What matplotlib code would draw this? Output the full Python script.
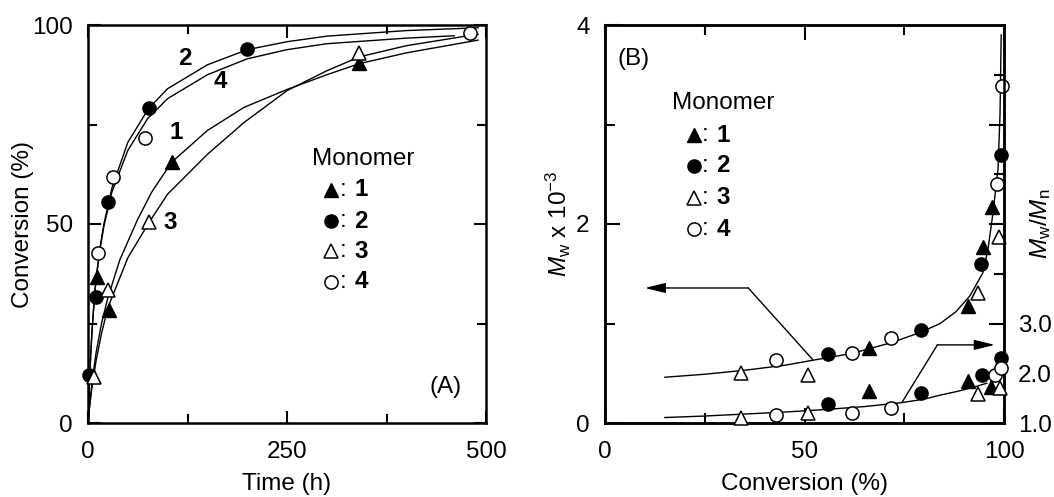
import matplotlib
matplotlib.use('Agg')
import matplotlib.pyplot as plt
from matplotlib.ticker import FixedLocator

plt.rcParams['font.family'] = ['Liberation Sans', 'DejaVu Sans']
plt.rcParams['mathtext.fontset'] = 'custom'
plt.rcParams['mathtext.rm'] = 'Liberation Sans'
plt.rcParams['mathtext.it'] = 'Liberation Sans:italic'
plt.rcParams['mathtext.bf'] = 'Liberation Sans:bold'

FS = 17.5

# ---- (A) conversion vs. time ----
time_1 = [11, 26, 106, 341]
conv_1 = [36.8, 28.4, 65.5, 90.4]
time_2 = [1, 10, 25, 77, 200]
conv_2 = [12, 31.7, 55.6, 79.1, 94.0]
time_3 = [7.5, 25, 77, 341]
conv_3 = [11.6, 33.4, 50.6, 93.0]
time_4 = [12, 32, 72, 480]
conv_4 = [42.6, 61.9, 71.5, 98.0]

# fitted curves
fit_t_1 = [0, 2, 5, 10, 17, 25, 40, 62, 80, 105, 150, 196, 250, 300, 341, 400, 490]
fit_c_1 = [0, 4.5, 10, 17.5, 25, 31.5, 41, 51, 58, 65.5, 73.5, 79.3, 83.8, 87.5, 90.3, 93, 96.2]
fit_t_3 = [0, 2, 5, 10, 17, 25, 50, 77, 100, 150, 196, 250, 300, 341, 400, 490]
fit_c_3 = [0, 4, 9, 15.5, 22.5, 29, 41.5, 50.5, 57.5, 67.5, 75.5, 83.5, 88.5, 92, 94.8, 97.7]
fit_t_2 = [0, 1, 2, 3.5, 5, 7.5, 10, 15, 20, 30, 50, 76, 100, 150, 200, 250, 300, 400, 490]
fit_c_2 = [0, 6, 11, 17.5, 23, 30, 36, 44, 50, 59, 70.5, 79, 84, 90, 93.8, 95.8, 97.2, 98.6, 99.3]
fit_t_4 = [0, 1, 2, 3.5, 5, 7.5, 10, 15, 20, 30, 50, 75, 100, 150, 200, 250, 300, 400, 460]
fit_c_4 = [0, 6, 11, 17.5, 23, 30, 36, 43.5, 49.5, 58, 68.5, 76.5, 81.5, 87.5, 91.5, 93.8, 95.3, 96.7, 97.3]

# ---- (B) Mw and Mw/Mn vs. conversion ----
mw_conv_1 = [66.2, 91, 94.7, 97]
mw_1 = [0.75, 1.18, 1.77, 2.17]
mw_conv_2 = [56, 79.3, 94.2, 99.2]
mw_2 = [0.69, 0.93, 1.60, 2.69]
mw_conv_3 = [34.2, 50.9, 93.6, 98.7]
mw_3 = [0.50, 0.48, 1.31, 1.87]
mw_conv_4 = [42.9, 62, 71.8, 98.2, 99.5]
mw_4 = [0.63, 0.70, 0.85, 2.40, 3.39]

pdi_conv_1 = [66.2, 91, 96.7]
pdi_1 = [1.65, 1.84, 1.72]
pdi_conv_2 = [56, 79.3, 94.4, 99.2]
pdi_2 = [1.38, 1.60, 1.96, 2.31]
pdi_conv_3 = [34.2, 50.9, 93.6, 99]
pdi_3 = [1.11, 1.21, 1.58, 1.70]
pdi_conv_4 = [42.9, 62, 71.8, 97.7, 99.2]
pdi_4 = [1.17, 1.21, 1.31, 1.96, 2.10]

fit_mw_conv = [15, 25, 35, 45, 52, 62, 72, 79, 84, 88, 91.5, 94.7, 96, 97.2, 98.5, 99, 99.3]
fit_mw = [0.46, 0.49, 0.53, 0.58, 0.63, 0.70, 0.81, 0.91, 1.0, 1.12, 1.28, 1.51, 1.75, 2.1, 2.55, 3.1, 3.9]
fit_pdi_conv = [15, 25, 35, 45, 55, 65, 74.4, 80, 84, 88, 92, 95.7]
fit_pdi = [1.11, 1.14, 1.18, 1.22, 1.27, 1.33, 1.41, 1.48, 1.56, 1.63, 1.71, 1.80]

styles = {
    1: dict(marker='^', ms=10, mfc='k', mec='k'),
    2: dict(marker='o', ms=9.5, mfc='k', mec='k'),
    3: dict(marker='^', ms=10, mfc='white', mec='k', mew=1.1),
    4: dict(marker='o', ms=9.5, mfc='white', mec='k', mew=1.1),
}

fig = plt.figure(figsize=(10.54, 4.97), dpi=100)
axA = fig.add_axes([88 / 1054, 74 / 497, 398 / 1054, 398 / 497])
axB = fig.add_axes([605 / 1054, 74 / 497, 399 / 1054, 398 / 497])


def frame(ax):
    for s in ax.spines.values():
        s.set_linewidth(1.8)


def legend(ax, px_title, px_m, px_c, px_n, py_title, py_rows):
    # positions given in pixels from the axes origin
    w = ax.get_position().width * 1054
    h = ax.get_position().height * 497
    ax.text(px_title / w, py_title / h, 'Monomer', transform=ax.transAxes,
            fontsize=FS, va='center', ha='left')
    for k, py in zip([1, 2, 3, 4], py_rows):
        ax.plot([px_m / w], [py / h], ls='none', transform=ax.transAxes,
                clip_on=False, **styles[k])
        ax.text(px_c / w, py / h, ':', transform=ax.transAxes, fontsize=FS,
                va='center', ha='center')
        ax.text(px_n / w, py / h, str(k), transform=ax.transAxes, fontsize=FS,
                va='center', ha='center', fontweight='bold')


# panel A
for tt, cc in [(fit_t_1, fit_c_1), (fit_t_2, fit_c_2), (fit_t_3, fit_c_3), (fit_t_4, fit_c_4)]:
    axA.plot(tt, cc, color='k', lw=1.0)
for k, tt, cc in [(1, time_1, conv_1), (2, time_2, conv_2), (3, time_3, conv_3), (4, time_4, conv_4)]:
    axA.plot(tt, cc, ls='none', clip_on=False, zorder=3, **styles[k])

for lab, t, c in [('2', 122, 91.7), ('4', 166, 85.9), ('1', 111, 72.9), ('3', 103, 50.5)]:
    axA.text(t, c, lab, fontsize=FS, fontweight='bold', ha='center', va='center')

axA.set_xlim(0, 500)
axA.set_ylim(0, 100)
axA.xaxis.set_major_locator(FixedLocator([0, 250, 500]))
axA.xaxis.set_minor_locator(FixedLocator([125, 375]))
axA.yaxis.set_major_locator(FixedLocator([0, 50, 100]))
axA.yaxis.set_minor_locator(FixedLocator([25, 75]))
axA.tick_params(which='both', direction='in', top=True, right=True, width=1.5, labelsize=FS)
axA.tick_params(which='major', length=9)
axA.tick_params(which='minor', length=6.5)
axA.tick_params(axis='x', pad=13)
axA.tick_params(axis='y', pad=11)
axA.set_xlabel('Time (h)', fontsize=FS)
axA.set_ylabel('Conversion (%)', fontsize=FS)
axA.xaxis.set_label_coords(0.5, -0.125)
axA.yaxis.set_label_coords(-0.135, 0.5)
axA.text(0.94, 0.09, '(A)', transform=axA.transAxes, fontsize=FS, ha='right', va='center')
legend(axA, 312 - 88, 331 - 88, 343 - 88, 361 - 88,
       423 - 159, [423 - y for y in [190, 221, 251, 282]])
frame(axA)

# panel B
axR = axB.twinx()
axB.plot(fit_mw_conv, fit_mw, color='k', lw=1.0)
axR.plot(fit_pdi_conv, fit_pdi, color='k', lw=1.0)
for k, cc, vv in [(1, mw_conv_1, mw_1), (2, mw_conv_2, mw_2), (3, mw_conv_3, mw_3), (4, mw_conv_4, mw_4)]:
    axB.plot(cc, vv, ls='none', clip_on=False, zorder=3, **styles[k])
for k, cc, vv in [(1, pdi_conv_1, pdi_1), (2, pdi_conv_2, pdi_2), (3, pdi_conv_3, pdi_3), (4, pdi_conv_4, pdi_4)]:
    axR.plot(cc, vv, ls='none', clip_on=False, zorder=3, **styles[k])

arrow = dict(arrowstyle='-|>,head_length=0.9,head_width=0.22', color='k', lw=1.0,
             mutation_scale=14, shrinkA=0, shrinkB=0)
axB.plot([52, 35.9], [0.64, 1.357], color='k', lw=1.0)
axB.annotate('', xy=(10, 1.357), xytext=(35.9, 1.357), arrowprops=arrow)
axR.plot([74.4, 83.3], [1.41, 2.57], color='k', lw=1.0)
axR.annotate('', xy=(97.7, 2.57), xytext=(83.3, 2.57), arrowprops=arrow)

axB.set_xlim(0, 100)
axB.set_ylim(0, 4)
axR.set_ylim(1, 9)
axB.xaxis.set_major_locator(FixedLocator([0, 50, 100]))
axB.xaxis.set_minor_locator(FixedLocator([25, 75]))
axB.yaxis.set_major_locator(FixedLocator([0, 2, 4]))
axB.yaxis.set_minor_locator(FixedLocator([1, 3]))
axB.tick_params(which='both', direction='in', top=True, right=False, width=1.5, labelsize=FS)
axB.tick_params(which='major', length=11)
axB.tick_params(which='minor', length=7)
axB.tick_params(axis='x', pad=13)
axB.tick_params(axis='y', pad=11)

axR.set_yticks([1, 3, 5, 7], ['1.0', '3.0', '', ''])
axR.set_yticks([2, 4, 6, 8], ['2.0', '', '', ''], minor=True)
axR.tick_params(which='both', direction='in', width=1.5, labelsize=FS, pad=10)
axR.tick_params(which='major', length=11)
axR.tick_params(which='minor', length=7)

axB.set_xlabel('Conversion (%)', fontsize=FS)
axB.set_ylabel(r'$M_\mathrm{w}$ x 10$^{-3}$', fontsize=FS)
axR.set_ylabel(r'$M_\mathrm{w}/M_\mathrm{n}$', fontsize=FS)
axB.xaxis.set_label_coords(0.5, -0.125)
axB.yaxis.set_label_coords(-0.08, 0.5)
axR.yaxis.set_label_coords(1.06, 0.5)
axB.text((634 - 605) / 399, (423 - 59) / 398, '(B)', transform=axB.transAxes,
         fontsize=FS, ha='center', va='center')
legend(axB, 672 - 605, 693.5 - 605, 705.5 - 605, 723 - 605,
       423 - 103, [423 - y for y in [135, 166, 198, 229]])
frame(axB)
frame(axR)

fig.savefig('out.png', dpi=100)
